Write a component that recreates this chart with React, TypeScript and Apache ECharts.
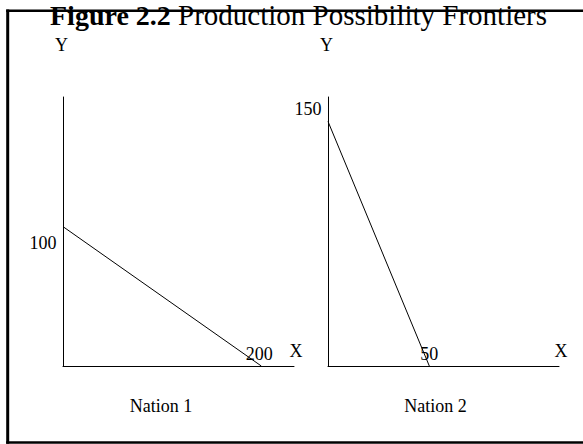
import React, { useEffect, useRef } from "react";
import * as echarts from "echarts";

const titleBold = "Figure 2.2";
const titleRest = "Production Possibility Frontiers";
const nationNames = ["Nation 1", "Nation 2"];
const axisNamesX = ["X", "X"];
const axisNamesY = ["Y", "Y"];
// frontier end points [x, y]
const nation1Points: [number, number][] = [[0, 100], [200, 0]];
const nation2Points: [number, number][] = [[0, 150], [50, 0]];
// visible extent of each panel's axes
const nation1AxisMax = { x: 233, y: 193 };
const nation2AxisMax = { x: 114, y: 165 };

const FONT = "'Liberation Serif', 'Times New Roman', serif";

export default function App() {
  const ref = useRef<HTMLDivElement>(null);
  useEffect(() => {
    if (!ref.current) return;
    const chart = echarts.init(ref.current, null, { renderer: "svg" });
    const textBase = { fontFamily: FONT, fontSize: 18, color: "#000" };
    const axisCommon = {
      axisLine: { show: true, lineStyle: { color: "#000", width: 1 } },
      axisTick: { show: false },
      axisLabel: { show: false },
      splitLine: { show: false },
    };
    const xAxis = (i: number, max: number) => ({
      type: "value",
      gridIndex: i,
      min: 0,
      max,
      name: axisNamesX[i],
      nameLocation: "end",
      nameGap: 2,
      nameTextStyle: { ...textBase, align: "center", verticalAlign: "bottom", lineHeight: 18, padding: [0, 0, 6, 0] },
      ...axisCommon,
    });
    const yAxis = (i: number, max: number) => ({
      type: "value",
      gridIndex: i,
      min: 0,
      max,
      name: axisNamesY[i],
      nameLocation: "end",
      nameGap: 43,
      nameTextStyle: { ...textBase, align: "center", verticalAlign: "bottom", lineHeight: 18, padding: [0, 3, 0, 0] },
      ...axisCommon,
    });
    const lineSeries = (i: number, pts: [number, number][], startOffset: number[], endOffset: number[]) => ({
      type: "line",
      xAxisIndex: i,
      yAxisIndex: i,
      symbol: "circle",
      symbolSize: 1,
      showSymbol: true,
      itemStyle: { color: "rgba(0,0,0,0)", borderWidth: 0 },
      lineStyle: { color: "#000", width: 1 },
      data: pts.map((p, k) => ({
        value: p,
        label: {
          show: true,
          formatter: String(k === 0 ? p[1] : p[0]),
          position: k === 0 ? "left" : "inside",
          distance: 6,
          offset: k === 0 ? startOffset : endOffset,
          ...textBase,
        },
      })),
    });
    chart.setOption({
      animation: false,
      backgroundColor: "#fff",
      title: {
        text: "{b|" + titleBold + "} " + titleRest,
        left: 50,
        top: 1,
        padding: 0,
        textStyle: {
          fontFamily: FONT,
          fontSize: 29,
          lineHeight: 28,
          fontWeight: "normal",
          color: "#000",
          rich: { b: { fontFamily: FONT, fontSize: 28, lineHeight: 28, fontWeight: "bold", color: "#000" } },
        },
      },
      grid: [
        { left: 63, top: 97, width: 231, height: 269 },
        { left: 328, top: 97, width: 231, height: 269 },
      ],
      xAxis: [xAxis(0, nation1AxisMax.x), xAxis(1, nation2AxisMax.x)],
      yAxis: [yAxis(0, nation1AxisMax.y), yAxis(1, nation2AxisMax.y)],
      series: [
        lineSeries(0, nation1Points, [0, 16], [-2, -12]),
        lineSeries(1, nation2Points, [0, -12], [0, -12]),
      ],
      graphic: [
        { type: "line", shape: { x1: 7.7, y1: 9.5, x2: 7.7, y2: 443.7 }, style: { stroke: "#000", lineWidth: 3 } },
        { type: "line", shape: { x1: 6.2, y1: 10.7, x2: 600, y2: 10.7 }, style: { stroke: "#000", lineWidth: 2.5 } },
        { type: "line", shape: { x1: 6.2, y1: 442.5, x2: 600, y2: 442.5 }, style: { stroke: "#000", lineWidth: 2.5 } },
        {
          type: "text",
          x: 161,
          y: 406,
          style: { text: nationNames[0], font: "18px " + FONT, fill: "#000", align: "center", verticalAlign: "middle" },
        },
        {
          type: "text",
          x: 435.6,
          y: 406,
          style: { text: nationNames[1], font: "18px " + FONT, fill: "#000", align: "center", verticalAlign: "middle" },
        },
      ],
    });
    return () => chart.dispose();
  }, []);
  return (
    <div
      ref={ref}
      style={{ position: "absolute", left: 0, top: 0, width: 583, height: 444, background: "#fff" }}
    />
  );
}
